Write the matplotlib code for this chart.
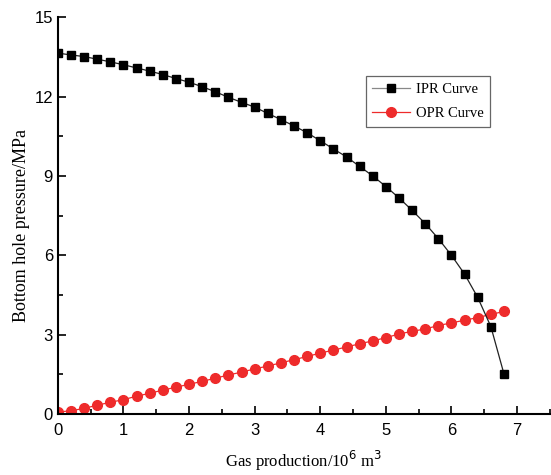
import matplotlib.pyplot as plt
from matplotlib.ticker import MultipleLocator

# gas production, 10^6 m^3
q = [0.0, 0.2, 0.4, 0.6, 0.8, 1.0, 1.2, 1.4, 1.6, 1.8, 2.0, 2.2, 2.4, 2.6, 2.8, 3.0, 3.2, 3.4,
     3.6, 3.8, 4.0, 4.2, 4.4, 4.6, 4.8, 5.0, 5.2, 5.4, 5.6, 5.8, 6.0, 6.2, 6.4, 6.6, 6.8]

# bottom hole pressure, MPa
ipr = [13.64, 13.57, 13.51, 13.41, 13.31, 13.20, 13.08, 12.96, 12.83, 12.68, 12.54, 12.37,
       12.18, 11.97, 11.78, 11.60, 11.36, 11.13, 10.89, 10.63, 10.33, 10.02, 9.72, 9.36,
       9.00, 8.60, 8.17, 7.70, 7.20, 6.63, 6.00, 5.29, 4.41, 3.31, 1.52]
opr = [0.08, 0.13, 0.22, 0.34, 0.45, 0.55, 0.68, 0.79, 0.91, 1.02, 1.13, 1.24, 1.36, 1.48,
       1.59, 1.71, 1.82, 1.94, 2.06, 2.18, 2.31, 2.42, 2.54, 2.66, 2.77, 2.89, 3.03, 3.13,
       3.22, 3.35, 3.45, 3.55, 3.65, 3.77, 3.88]

plt.rcParams["font.family"] = ["Liberation Sans", "DejaVu Sans"]

fig = plt.figure(figsize=(5.51, 4.75), dpi=100)
ax = fig.add_axes([0.105, 0.128, 0.893, 0.836])

ax.plot(q, ipr, color="#222222", lw=0.9, marker="s", ms=6, mfc="black", mec="black",
        label="IPR Curve", zorder=3)
ax.plot(q, opr, color="#ee2b2b", lw=0.9, marker="o", ms=7, mfc="#ee2b2b", mec="#ee2b2b",
        label="OPR Curve", zorder=2)

ax.set_xlim(0, 7.5)
ax.set_ylim(0, 15)
ax.xaxis.set_major_locator(MultipleLocator(1))
ax.xaxis.set_minor_locator(MultipleLocator(0.5))
ax.yaxis.set_major_locator(MultipleLocator(3))
ax.yaxis.set_minor_locator(MultipleLocator(1.5))
ax.tick_params(which="both", direction="in", width=1.2, labelsize=12)
ax.tick_params(which="major", length=6)
ax.tick_params(which="minor", length=3.5)
ax.tick_params(axis="x", pad=6)

for s in ["top", "right"]:
    ax.spines[s].set_visible(False)
for s in ["left", "bottom"]:
    ax.spines[s].set_linewidth(1.5)

ax.set_xlabel("Gas production/10$^6$ m$^3$", family="Liberation Serif", fontsize=12, labelpad=8)
ax.set_ylabel("Bottom hole pressure/MPa", family="Liberation Serif", fontsize=13)
ax.yaxis.set_label_coords(-0.057, 0.476)

leg = ax.legend(loc="upper left", bbox_to_anchor=(0.626, 0.851), borderaxespad=0,
                fancybox=False, edgecolor="#666666",
                prop={"family": "Liberation Serif", "size": 10.5},
                handlelength=2.6, handletextpad=0.4, borderpad=0.45, labelspacing=0.75,
                framealpha=1)
leg.get_frame().set_linewidth(0.9)
leg.get_lines()[0].set_color("#888888")
leg.get_lines()[0].set_markerfacecolor("black")
leg.get_lines()[0].set_markeredgecolor("black")

fig.savefig("out.png", dpi=100)
